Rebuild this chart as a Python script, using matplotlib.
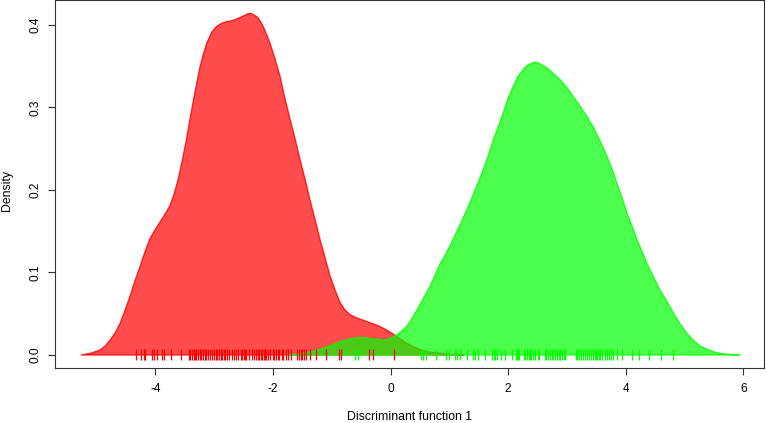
"""Density of discriminant function 1 for two groups, with rug marks."""

import matplotlib
import matplotlib.pyplot as plt

matplotlib.use("Agg")

# Density curve of group 1 (red)
red_x = [-5.26, -5.10, -5.02, -4.94, -4.85, -4.77, -4.68, -4.60, -4.52,
         -4.43, -4.35, -4.26, -4.17, -4.09, -4.00, -3.92, -3.84, -3.75,
         -3.68, -3.61, -3.54, -3.47, -3.41, -3.35, -3.29, -3.24, -3.18,
         -3.13, -3.04, -2.96, -2.87, -2.79, -2.70, -2.62, -2.56, -2.50,
         -2.44, -2.39, -2.34, -2.30, -2.26, -2.22, -2.18, -2.14, -2.10,
         -2.05, -1.97, -1.88, -1.80, -1.71, -1.62, -1.54, -1.45, -1.37,
         -1.28, -1.20, -1.11, -1.03, -0.94, -0.86, -0.78, -0.69, -0.58,
         -0.46, -0.35, -0.23, -0.14, -0.06, 0.03, 0.11, 0.20, 0.28, 0.39,
         0.50, 0.62, 0.73, 0.86, 1.00, 1.25]
red_y = [0.000, 0.002, 0.004, 0.006, 0.011, 0.018, 0.027, 0.038, 0.053,
         0.071, 0.089, 0.107, 0.126, 0.141, 0.152, 0.161, 0.170, 0.181,
         0.195, 0.213, 0.236, 0.261, 0.286, 0.309, 0.331, 0.349, 0.365,
         0.377, 0.391, 0.398, 0.402, 0.404, 0.405, 0.407, 0.409, 0.411,
         0.413, 0.414, 0.413, 0.411, 0.409, 0.405, 0.400, 0.394, 0.387,
         0.378, 0.360, 0.338, 0.312, 0.286, 0.261, 0.237, 0.212, 0.188,
         0.163, 0.140, 0.117, 0.096, 0.078, 0.064, 0.055, 0.049, 0.045,
         0.042, 0.039, 0.036, 0.033, 0.030, 0.026, 0.022, 0.018, 0.014,
         0.010, 0.007, 0.004, 0.003, 0.002, 0.001, 0.000]

# Density curve of group 2 (green)
green_x = [-1.75, -1.60, -1.43, -1.28, -1.14, -1.00, -0.86, -0.72, -0.57,
           -0.46, -0.35, -0.23, -0.12, -0.03, 0.05, 0.16, 0.28, 0.38, 0.47,
           0.57, 0.67, 0.76, 0.84, 0.93, 1.01, 1.15, 1.30, 1.44, 1.58, 1.67,
           1.75, 1.84, 1.92, 2.00, 2.09, 2.17, 2.26, 2.31, 2.36, 2.41, 2.46,
           2.51, 2.56, 2.61, 2.66, 2.77, 2.88, 3.00, 3.11, 3.22, 3.34, 3.45,
           3.56, 3.68, 3.77, 3.85, 3.94, 4.02, 4.11, 4.19, 4.28, 4.36, 4.47,
           4.58, 4.70, 4.81, 4.92, 5.04, 5.15, 5.26, 5.38, 5.49, 5.60, 5.70,
           5.94]
green_y = [0.000, 0.001, 0.003, 0.005, 0.008, 0.012, 0.016, 0.019, 0.021,
           0.021, 0.020, 0.019, 0.018, 0.019, 0.022, 0.027, 0.035, 0.046,
           0.057, 0.070, 0.083, 0.097, 0.110, 0.121, 0.132, 0.153, 0.176,
           0.200, 0.225, 0.243, 0.261, 0.278, 0.294, 0.311, 0.326, 0.338,
           0.346, 0.350, 0.352, 0.354, 0.355, 0.354, 0.352, 0.350, 0.348,
           0.341, 0.334, 0.324, 0.313, 0.302, 0.289, 0.276, 0.260, 0.241,
           0.225, 0.208, 0.190, 0.172, 0.156, 0.140, 0.125, 0.111, 0.095,
           0.079, 0.065, 0.051, 0.038, 0.026, 0.018, 0.011, 0.007, 0.004,
           0.002, 0.001, 0.000]

# Individual scores (rug)
red_rug = [-4.33, -4.24, -4.20, -4.17, -4.05, -4.03, -3.97, -3.88, -3.86,
           -3.74, -3.57, -3.43, -3.41, -3.38, -3.35, -3.32, -3.30, -3.27,
           -3.24, -3.22, -3.19, -3.15, -3.13, -3.10, -3.07, -3.04, -3.01,
           -2.97, -2.95, -2.92, -2.89, -2.87, -2.84, -2.81, -2.78, -2.75,
           -2.70, -2.66, -2.63, -2.59, -2.54, -2.52, -2.50, -2.47, -2.45,
           -2.41, -2.36, -2.33, -2.29, -2.26, -2.23, -2.21, -2.19, -2.16,
           -2.13, -2.11, -2.08, -2.05, -2.00, -1.98, -1.95, -1.92, -1.90,
           -1.85, -1.82, -1.78, -1.74, -1.70, -1.59, -1.56, -1.53, -1.50,
           -1.47, -1.43, -1.37, -1.26, -1.10, -0.88, -0.84, -0.36, -0.29,
           0.06]
green_rug = [-0.60, -0.56, 0.52, 0.56, 0.60, 0.77, 0.94, 1.00, 1.10, 1.13,
             1.18, 1.30, 1.40, 1.43, 1.48, 1.61, 1.73, 1.76, 1.78, 1.81,
             1.88, 1.95, 2.06, 2.13, 2.15, 2.17, 2.19, 2.27, 2.29, 2.32,
             2.35, 2.37, 2.39, 2.42, 2.45, 2.51, 2.53, 2.62, 2.64, 2.68,
             2.71, 2.74, 2.77, 2.80, 2.83, 2.87, 2.89, 2.92, 2.95, 2.97,
             3.15, 3.18, 3.21, 3.24, 3.27, 3.31, 3.34, 3.38, 3.41, 3.45,
             3.47, 3.49, 3.52, 3.55, 3.56, 3.60, 3.65, 3.69, 3.72, 3.75,
             3.78, 3.85, 3.93, 4.11, 4.22, 4.39, 4.60, 4.80]

x_ticks = [-4, -2, 0, 2, 4, 6]
y_ticks = [0.0, 0.1, 0.2, 0.3, 0.4]

plt.rcParams["font.family"] = ["Liberation Sans", "DejaVu Sans"]

fig = plt.figure(figsize=(7.67, 4.23), dpi=100)
ax = fig.add_axes([55 / 767, 55 / 423, 709 / 767, 367.5 / 423])

ax.fill(red_x, red_y, facecolor=(1, 0, 0, 0.7), edgecolor=(1, 0, 0, 0.8),
        linewidth=1.0, joinstyle="round")
ax.fill(green_x, green_y, facecolor=(0, 1, 0, 0.7), edgecolor=(0, 1, 0, 0.8),
        linewidth=1.0, joinstyle="round")
ax.vlines(red_rug, -0.006, 0.0077, colors="red", linewidth=0.9)
ax.vlines(green_rug, -0.006, 0.0077, colors="lime", linewidth=0.9)

ax.set_xlim(-5.706, 6.352)
ax.set_ylim(-0.0158, 0.4296)
ax.set_xticks(x_ticks)
ax.set_xticklabels([str(t) for t in x_ticks])
ax.set_yticks(y_ticks)
ax.set_yticklabels([f"{t:.1f}" for t in y_ticks], rotation=90, va="center")
ax.tick_params(direction="out", length=5, width=0.8, labelsize=8.6,
               color="#333333")
ax.tick_params(axis="x", pad=6)
ax.tick_params(axis="y", pad=5)
for spine in ax.spines.values():
    spine.set_linewidth(0.8)
    spine.set_color("#333333")

fig.text(409.5 / 767, 1 - 417 / 423, "Discriminant function 1",
         ha="center", va="center", fontsize=8.8)
fig.text(7 / 767, 1 - 190 / 423, "Density", rotation=90,
         ha="center", va="center", fontsize=8.8)

fig.savefig("out.png", dpi=100)
plt.close(fig)
